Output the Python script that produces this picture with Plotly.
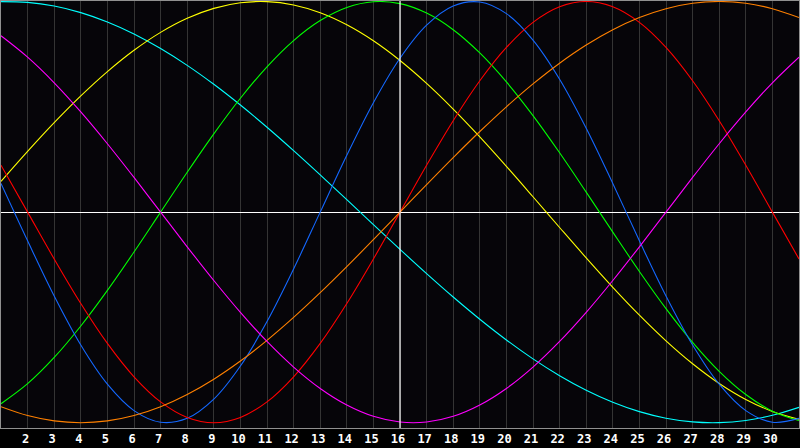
import plotly.graph_objects as go

days = list(range(1, 32))
tick_days = list(range(2, 31))
tick_labels = [str(d) for d in tick_days]
today = 16

cyan_vals = [0.9996, 0.9961, 0.9785, 0.9473, 0.9028, 0.8457, 0.7767, 0.6967, 0.6069, 0.5085,
             0.4031, 0.2920, 0.1769, 0.0593, -0.0593, -0.1769, -0.2920, -0.4031, -0.5085, -0.6069,
             -0.6967, -0.7767, -0.8457, -0.9028, -0.9473, -0.9785, -0.9961, -0.9996, -0.9890, -0.9646,
             -0.9267]
yellow_vals = [0.1456, 0.2881, 0.4245, 0.5517, 0.6671, 0.7684, 0.8535, 0.9204, 0.9675, 0.9940,
               0.9993, 0.9834, 0.9465, 0.8893, 0.8134, 0.7199, 0.6112, 0.4894, 0.3572, 0.2174,
               0.0730, -0.0730, -0.2174, -0.3572, -0.4894, -0.6112, -0.7199, -0.8134, -0.8893, -0.9465,
               -0.9834]
green_vals = [-0.9096, -0.8146, -0.6901, -0.5406, -0.3717, -0.1893, 0.0, 0.1893, 0.3717, 0.5406,
              0.6901, 0.8146, 0.9096, 0.9718, 0.9989, 0.9898, 0.9450, 0.8660, 0.7557, 0.6182,
              0.4582, 0.2817, 0.0950, -0.0950, -0.2817, -0.4582, -0.6182, -0.7557, -0.8660, -0.9450,
              -0.9898]
blue_vals = [0.1362, -0.1362, -0.3984, -0.6311, -0.8170, -0.9423, -0.9977, -0.9791, -0.8879, -0.7308,
             -0.5196, -0.2698, 0.0, 0.2698, 0.5196, 0.7308, 0.8879, 0.9791, 0.9977, 0.9423,
             0.8170, 0.6311, 0.3984, 0.1362, -0.1362, -0.3984, -0.6311, -0.8170, -0.9423, -0.9977,
             -0.9791]
red_vals = [0.2225, 0.0, -0.2225, -0.4339, -0.6235, -0.7818, -0.9010, -0.9749, -1.0, -0.9749,
            -0.9010, -0.7818, -0.6235, -0.4339, -0.2225, 0.0, 0.2225, 0.4339, 0.6235, 0.7818,
            0.9010, 0.9749, 1.0, 0.9749, 0.9010, 0.7818, 0.6235, 0.4339, 0.2225, 0.0,
            -0.2225]
orange_vals = [-0.9239, -0.9659, -0.9914, -1.0, -0.9914, -0.9659, -0.9239, -0.8660, -0.7934, -0.7071,
               -0.6088, -0.5, -0.3827, -0.2588, -0.1305, 0.0, 0.1305, 0.2588, 0.3827, 0.5,
               0.6088, 0.7071, 0.7934, 0.8660, 0.9239, 0.9659, 0.9914, 1.0, 0.9914, 0.9659,
               0.9239]
magenta_vals = [0.8372, 0.7357, 0.6142, 0.4759, 0.3247, 0.1646, 0.0, -0.1646, -0.3247, -0.4759,
                -0.6142, -0.7357, -0.8372, -0.9158, -0.9694, -0.9966, -0.9966, -0.9694, -0.9158, -0.8372,
                -0.7357, -0.6142, -0.4759, -0.3247, -0.1646, 0.0, 0.1646, 0.3247, 0.4759, 0.6142,
                0.7357]

series = [
    ("cyan", cyan_vals, "#00ffff"),
    ("yellow", yellow_vals, "#ffff00"),
    ("green", green_vals, "#00ff00"),
    ("blue", blue_vals, "#1468ff"),
    ("red", red_vals, "#ff0000"),
    ("orange", orange_vals, "#ff8000"),
    ("magenta", magenta_vals, "#ff00ff"),
]

fig = go.Figure()
for name, vals, color in series:
    fig.add_trace(go.Scatter(
        x=days, y=vals, mode="lines", name=name,
        line=dict(color=color, width=1.1, shape="spline", smoothing=1.0),
        hoverinfo="skip",
    ))

fig.add_shape(type="line", xref="x", yref="paper", x0=today, x1=today, y0=0, y1=1,
              line=dict(color="#ffffff", width=1.2), layer="above")

bg = "#060509"
fig.update_layout(
    width=800, height=448,
    margin=dict(l=1, r=1, t=1, b=20),
    paper_bgcolor="#000000", plot_bgcolor=bg,
    showlegend=False,
)
fig.update_xaxes(
    range=[1, 31], tickvals=tick_days, ticktext=tick_labels,
    showgrid=True, gridcolor="#343434", gridwidth=1,
    showline=True, linecolor="#909090", linewidth=1, mirror=True,
    ticks="", ticklabelshift=-2,
    tickfont=dict(family="DejaVu Sans Mono", size=12, color="#ffffff", weight="bold"),
    zeroline=False, fixedrange=True,
)
fig.update_yaxes(
    range=[-1.025, 1.0024], showgrid=False, showticklabels=False, ticks="",
    zeroline=True, zerolinecolor="#ffffff", zerolinewidth=1.2,
    showline=True, linecolor="#909090", linewidth=1, mirror=True,
    fixedrange=True,
)

fig.write_html(
    "out.html",
    config={"displayModeBar": False},
    post_script="document.body.style.margin='0';document.body.style.background='#000';",
)
